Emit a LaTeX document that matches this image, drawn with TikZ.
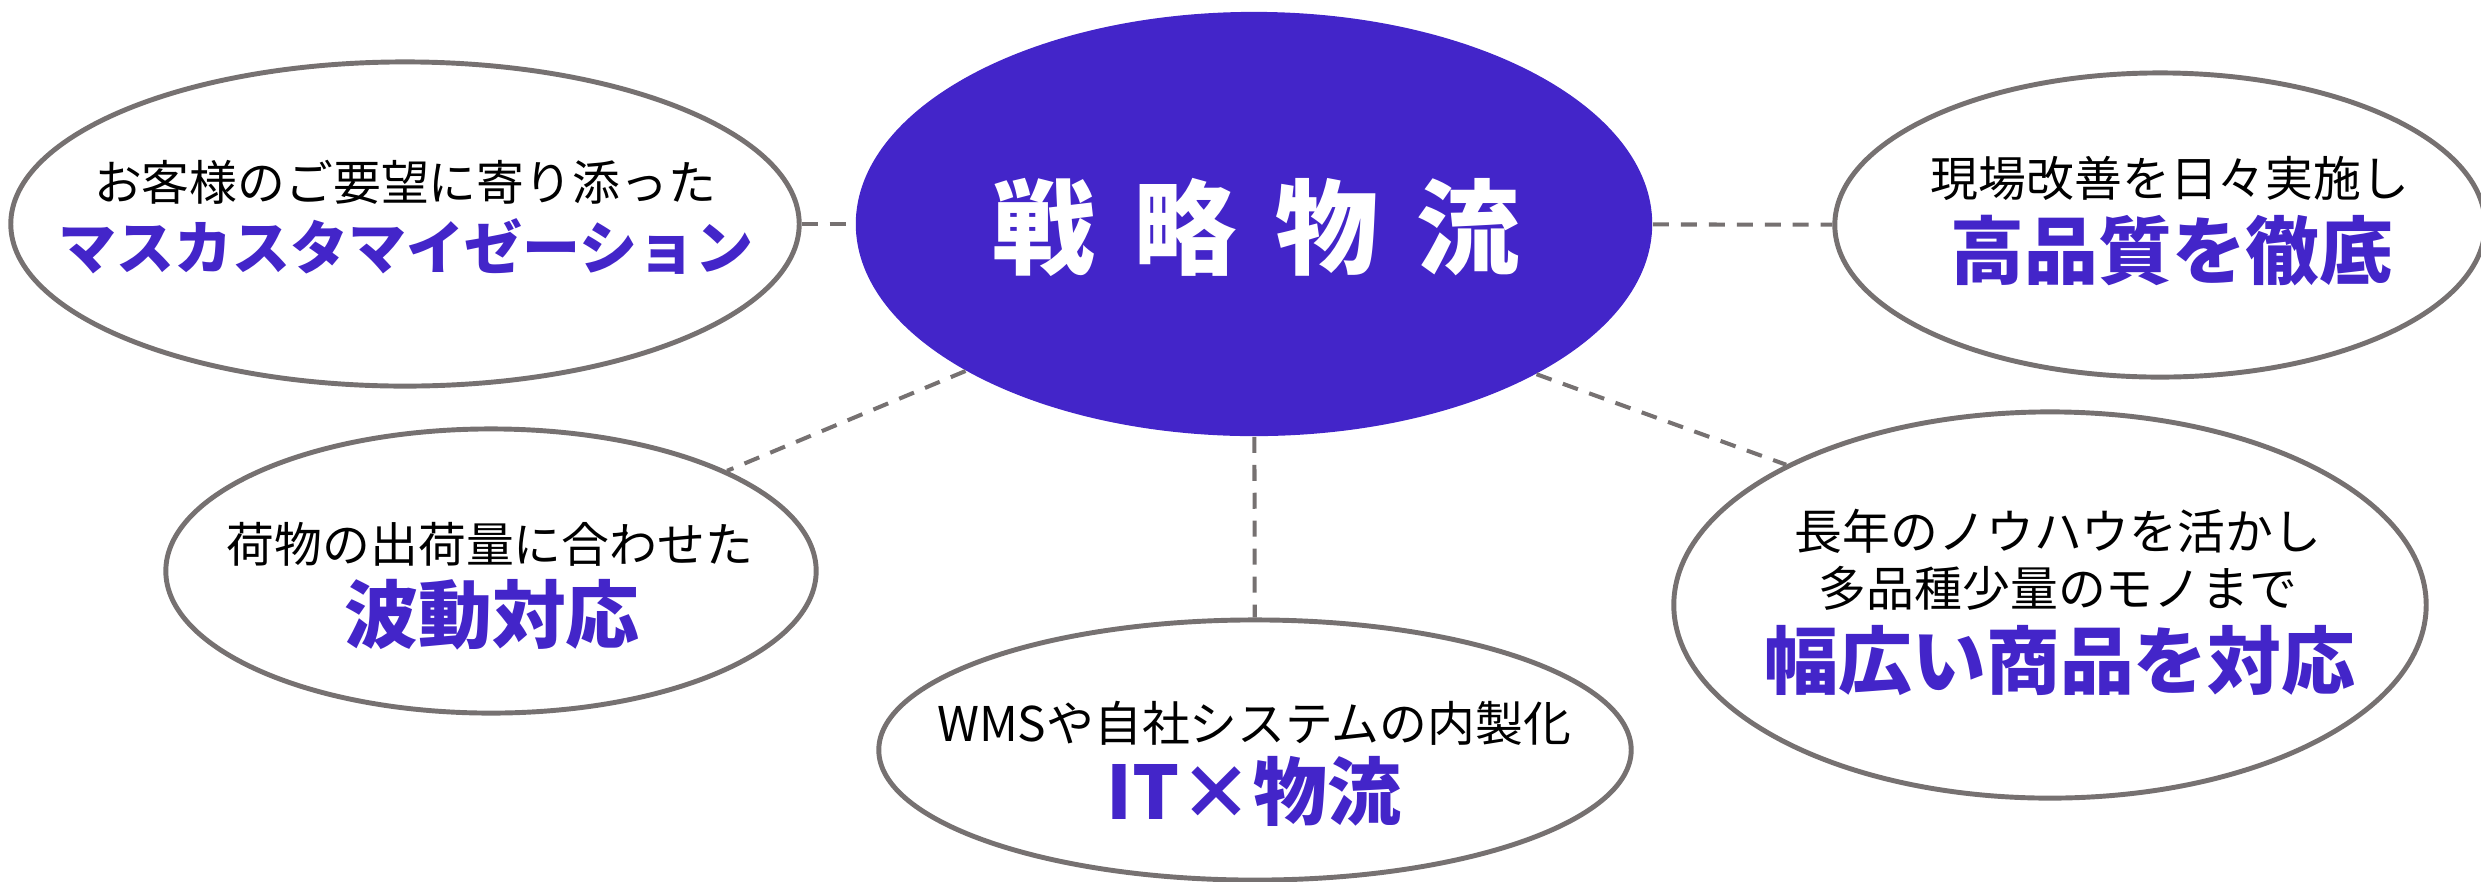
\documentclass[tikz,border=0pt]{standalone}
\usepackage{fontspec}
\usetikzlibrary{shapes.geometric}
\newfontfamily\jpr{Noto Sans CJK JP}
\definecolor{pblue}{HTML}{4325C9}
\definecolor{lgray}{HTML}{767171}
\tikzset{
  bubble/.style={ellipse, draw=lgray, line width=1.4pt, fill=white, inner sep=0pt},
  hub/.style={ellipse, fill=pblue, draw=none, inner sep=0pt},
  conn/.style={draw=lgray, line width=1.15pt, dash pattern=on 4.55pt off 3.4pt},
  smalltxt/.style={anchor=base, inner sep=0pt, text=black, font=\jpr\fontsize{13.6pt}{16pt}\selectfont},
  bigtxt/.style={anchor=base, inner sep=0pt, text=pblue, font=\jpr\bfseries\fontsize{21pt}{24pt}\selectfont},
  midtxt/.style={anchor=base, inner sep=0pt, text=pblue, font=\jpr\bfseries\fontsize{16.5pt}{20pt}\selectfont},
  hubtxt/.style={anchor=base, inner sep=0pt, text=white, font=\jpr\bfseries\fontsize{29.3pt}{32pt}\selectfont}
}
\begin{document}
\begin{tikzpicture}[x=0.01cm, y=-0.01cm]
\useasboundingbox (0,0) rectangle (2481,881);
% ellipses
\node[hub, minimum width=7.96cm, minimum height=4.24cm] (c) at (1254,224) {};
\node[bubble, minimum width=7.88cm, minimum height=3.24cm] (lt) at (405,224) {};
\node[bubble, minimum width=6.50cm, minimum height=3.04cm] (rt) at (2160,225) {};
\node[bubble, minimum width=6.50cm, minimum height=2.84cm] (lm) at (491,571) {};
\node[bubble, minimum width=7.52cm, minimum height=2.60cm] (bm) at (1255,750) {};
\node[bubble, minimum width=7.52cm, minimum height=3.86cm] (rb) at (2050,605) {};
% connectors
\draw[conn] (lt) -- (c);
\draw[conn] (c) -- (rt);
\draw[conn] (c.207.8) -- (lm.23.6);
\draw[conn] (c) -- (bm);
\draw[conn] (c.-28) -- (rb.152.5);
% texts
\node[hubtxt] (ct) at (1256,266) {戦\hspace{0.38cm}略\hspace{0.38cm}物\hspace{0.38cm}流};
\node[smalltxt] (lt1) at (405,200) {お客様のご要望に寄り添った};
\node[midtxt] (lt2) at (406,269) {マスカスタマイゼーション};
\node[smalltxt] (rt1) at (2170,196) {現場改善を日々実施し};
\node[bigtxt] (rt2) at (2172,278) {高品質を徹底};
\node[smalltxt] (lm1) at (490,562) {荷物の出荷量に合わせた};
\node[bigtxt] (lm2) at (492,642) {波動対応};
\node[smalltxt] (bm1) at (1254,741) {WMSや自社システムの内製化};
\node[bigtxt] (bm2) at (1254,819) {IT×物流};
\node[smalltxt] (rb1) at (2058,549) {長年のノウハウを活かし};
\node[smalltxt] (rb2) at (2058,606) {多品種少量のモノまで};
\node[bigtxt] (rb3) at (2060,688) {幅広い商品を対応};
\end{tikzpicture}
\end{document}
